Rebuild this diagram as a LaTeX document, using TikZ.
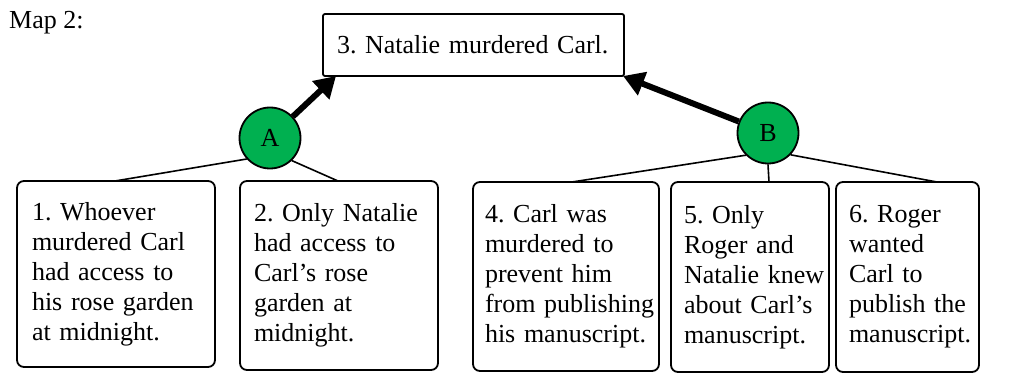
\documentclass[tikz,border=0pt]{standalone}
\usepackage{fontspec}
\setmainfont{Liberation Serif}
\usetikzlibrary{arrows.meta}
\definecolor{arggreen}{HTML}{00B050}
\newcommand{\tline}[1]{\mbox{#1}}
\begin{document}
\frenchspacing
\begin{tikzpicture}[x=1pt,y=-1pt,
  every node/.style={font=\fontsize{26}{30}\selectfont\frenchspacing},
  claim/.style={draw, line width=1.8pt, rounded corners=7pt, align=left, inner ysep=0pt},
  concl/.style={draw, line width=1.8pt, rounded corners=2pt, align=left, inner ysep=0pt},
  reason/.style={draw, line width=1.8pt, circle, fill=arggreen, inner sep=0pt, minimum size=61pt},
  link/.style={line width=1.6pt},
  support/.style={line width=6pt, -{Triangle[length=21pt,width=24pt]}}]
\useasboundingbox (0,0) rectangle (1018,377);
\node[anchor=base west, inner sep=0pt] (lbl) at (9,29) {Map 2:};
\node[concl, inner xsep=14pt, text width=273pt, minimum height=62pt] (t) at (473.5,45) {\tline{3. Natalie murdered Carl.}};
\node[claim, inner xsep=15pt, text width=168pt, minimum height=186pt] (b1) at (116,274) {\tline{1. Whoever}\\\tline{murdered Carl}\\\tline{had access to}\\\tline{his rose garden}\\\tline{at midnight.}};
\node[claim, inner xsep=14pt, text width=170pt, minimum height=189pt] (b2) at (339,275.5) {\tline{2. Only Natalie}\\\tline{had access to}\\\tline{Carl’s rose}\\\tline{garden at}\\\tline{midnight.}};
\node[claim, inner xsep=12pt, text width=162pt, minimum height=189pt] (b4) at (566,276.5) {\tline{4. Carl was}\\\tline{murdered to}\\\tline{prevent him}\\\tline{from publishing}\\\tline{his manuscript.}};
\node[claim, inner xsep=13pt, text width=132pt, minimum height=190pt] (b5) at (750,277) {\tline{5. Only}\\\tline{Roger and}\\\tline{Natalie knew}\\\tline{about Carl’s}\\\tline{manuscript.}};
\node[claim, inner xsep=13pt, text width=117pt, minimum height=190pt] (b6) at (907.5,277) {\tline{6. Roger}\\\tline{wanted}\\\tline{Carl to}\\\tline{publish the}\\\tline{manuscript.}};
\node[reason] (A) at (270,138) {A};
\node[reason] (B) at (768,133) {B};
\coordinate (p1) at (115,181);
\coordinate (p2) at (338,181);
\coordinate (p4) at (572,182);
\coordinate (p5) at (769,182);
\coordinate (p6) at (937,182);
\coordinate (tA) at (336,76);
\coordinate (tB) at (623,76);
\draw[link] (A.222) -- (p1);
\draw[link] (A.314) -- (p2);
\draw[link] (B.225) -- (p4);
\draw[link] (B.270) -- (p5);
\draw[link] (B.316) -- (p6);
\draw[support] (A) -- (tA);
\draw[support] (B) -- (tB);
\end{tikzpicture}
\end{document}
